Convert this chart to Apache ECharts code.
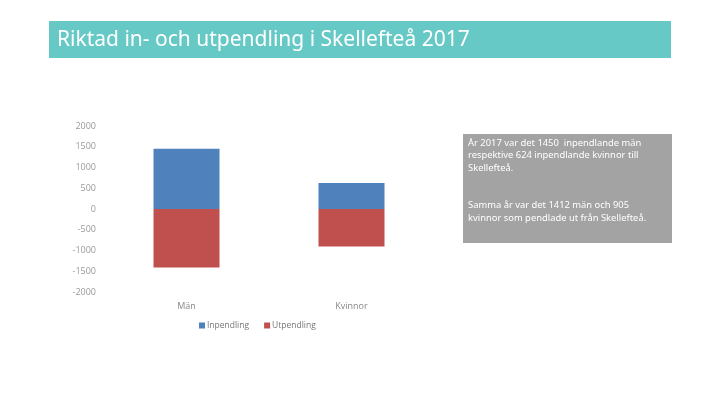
<!DOCTYPE html>
<html><head><meta charset="utf-8">
<script src="https://cdn.jsdelivr.net/npm/echarts@6/dist/echarts.min.js"></script>
<style>html,body{margin:0;padding:0;background:#fff}#c{width:720px;height:405px}</style>
</head><body><div id="c"></div>
<script>
var categories = ['Män', 'Kvinnor'];
var inpendling = [1450, 624];
var utpendling = [-1412, -905];
var titleText = 'Riktad in- och utpendling i Skellefteå 2017';
var noteText = 'År 2017 var det 1450  inpendlande män\nrespektive 624 inpendlande kvinnor till\nSkellefteå.\n\n\nSamma år var det 1412 män och 905\nkvinnor som pendlade ut från Skellefteå.';

var chart = echarts.init(document.getElementById('c'), null, {renderer: 'canvas'});
chart.setOption({
  animation: false,
  backgroundColor: '#fff',
  textStyle: {fontFamily: 'Open Sans'},
  graphic: [
    {type: 'rect', shape: {x: 49, y: 21, width: 622, height: 37}, style: {fill: '#66C9C6'}},
    {type: 'text', left: 57, top: 30, style: {text: titleText, fill: '#fff', font: '21px "Noto Sans"'}},
    {type: 'rect', shape: {x: 463, y: 134, width: 209, height: 109}, style: {fill: '#A3A3A3'}},
    {type: 'text', left: 468, top: 137, style: {text: noteText, fill: '#fff', font: '9.4px "Noto Sans"', lineHeight: 12.5}}
  ],
  legend: {
    data: ['Inpendling', 'Utpendling'],
    left: 199, top: 321, padding: 0,
    icon: 'rect', itemWidth: 6, itemHeight: 6, itemGap: 15,
    textStyle: {color: '#777', fontSize: 8.5, padding: [0, 0, 0, -3]}
  },
  grid: {left: 104, right: 286, top: 126, bottom: 113, containLabel: false},
  xAxis: {
    type: 'category', data: categories,
    axisLine: {show: false}, axisTick: {show: false},
    axisLabel: {color: '#888', fontSize: 9, margin: 10}
  },
  yAxis: {
    type: 'value', min: -2000, max: 2000, interval: 500,
    axisLine: {show: false}, axisTick: {show: false}, splitLine: {show: false},
    axisLabel: {color: '#999', fontSize: 9, margin: 8, formatter: function (v) { return String(v); }}
  },
  series: [
    {name: 'Inpendling', type: 'bar', stack: 's', data: inpendling, barWidth: '40%', itemStyle: {color: '#4F81BD'}},
    {name: 'Utpendling', type: 'bar', stack: 's', data: utpendling, barWidth: '40%', itemStyle: {color: '#C0504D'}}
  ]
});
</script></body></html>
